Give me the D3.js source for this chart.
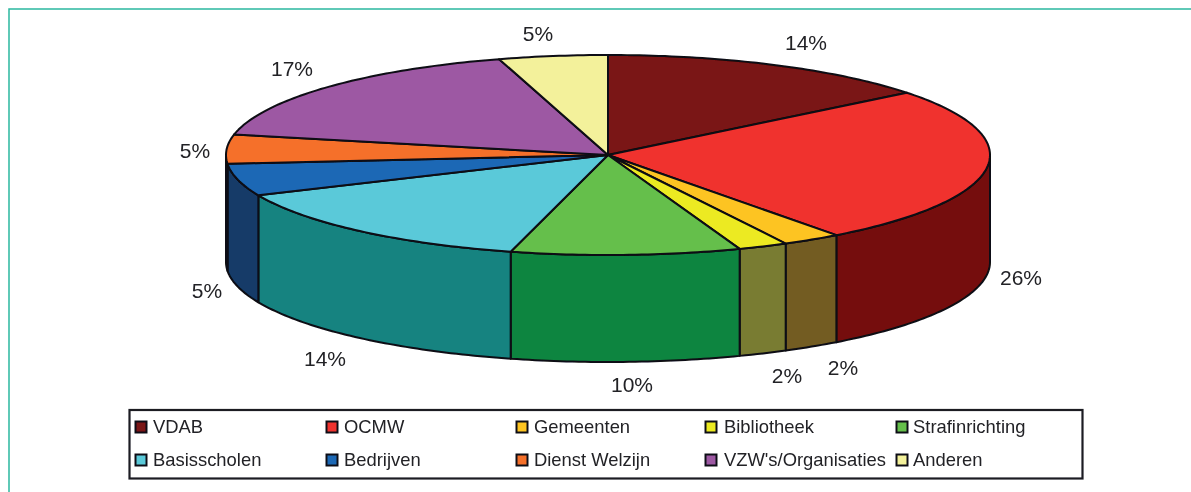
<!DOCTYPE html>
<html><head><meta charset="utf-8">
<script src="https://cdn.jsdelivr.net/npm/d3@7"></script>
<style>html,body{margin:0;padding:0;background:#fff;overflow:hidden}text{font-family:"Liberation Sans",Arial,sans-serif;fill:#222226}</style>
</head><body><svg id="c" width="1191" height="492"></svg>
<script>
const categories=["VDAB","OCMW","Gemeenten","Bibliotheek","Strafinrichting","Basisscholen","Bedrijven","Dienst Welzijn","VZW's/Organisaties","Anderen"];
const values=[14.3,25.5,2.5,2.1,9.7,14.3,5.2,4.7,17.1,4.6];
const percentLabels=["14%","26%","2%","2%","10%","14%","5%","5%","17%","5%"];
const topColors=["#7a1212","#f0302e","#fdc423","#ecea20","#65bf4b","#5ac9d9","#1c68b5","#f5702a","#9d58a3","#f3f19b"];
const sideColors=["#75100f","#75100f","#735c20","#797c33","#0f8540","#128380","#123b67","#a04a1c","#653a6a","#a09e60"];

const svg=d3.select("#c");
const W=1191,H=492;
const cx=608,cy=155,rx=382,ry=100,depth=107;
// label anchor positions of the original layout (centre of each text)
const labelPos=[[806,42],[1021,277],[843,367],[787,375],[632,384],[325,358],[207,290],[195,150],[292,68],[538,33]];

svg.append("defs").append("filter").attr("id","soft").attr("x","-2%").attr("y","-2%").attr("width","104%").attr("height","104%")
  .append("feGaussianBlur").attr("stdDeviation",0.45);

// page frame
svg.append("path").attr("d",`M9,492V9H${W}`).attr("fill","none").attr("stroke","#2bb8a0").attr("stroke-width",1.5);

const g=svg.append("g").attr("filter","url(#soft)");
const pie=d3.pie().sort(null).value(d=>d)(values);
const px=d3.scaleLinear().domain([-1,1]).range([cx-rx,cx+rx]);
const py=d3.scaleLinear().domain([-1,1]).range([cy-ry,cy+ry]);
const pt=(a,dz=0)=>[px(Math.sin(a)),py(-Math.cos(a))+dz];
const arcPts=(a0,a1,dz=0)=>{const n=Math.max(2,Math.ceil((a1-a0)*60));return d3.range(n+1).map(i=>pt(a0+(a1-a0)*i/n,dz));};
const line=d3.line();
const st={stroke:"#0c0c12",w:2};

// walls: only the front half of the ellipse is visible
const hp=Math.PI/2;
pie.forEach((s,i)=>{
  const a0=Math.max(s.startAngle,hp),a1=Math.min(s.endAngle,3*hp);
  if(a1<=a0)return;
  const pts=arcPts(a0,a1).concat(arcPts(a0,a1,depth).reverse());
  g.append("path").attr("d",line(pts)+"Z").attr("fill",sideColors[i]).attr("stroke",st.stroke).attr("stroke-width",st.w).attr("stroke-linejoin","round");
});
// top slices
pie.forEach((s,i)=>{
  const pts=[[cx,cy]].concat(arcPts(s.startAngle,s.endAngle));
  g.append("path").attr("d",line(pts)+"Z").attr("fill",topColors[i]).attr("stroke",st.stroke).attr("stroke-width",st.w).attr("stroke-linejoin","round");
});
// percentage labels
percentLabels.forEach((t,i)=>{
  g.append("text").attr("x",labelPos[i][0]).attr("y",labelPos[i][1]).attr("text-anchor","middle").attr("dominant-baseline","central").attr("font-size",21).text(t);
});
// legend
const lg=g.append("g");
lg.append("rect").attr("x",129.5).attr("y",410).attr("width",953).attr("height",68.5).attr("fill","#fff").attr("stroke","#1c1c24").attr("stroke-width",2.2);
const swatchX=[135.5,326.5,516.5,705.5,896.5];
const textX=[153,344,534,724,913];
const rowY=[427,460];
categories.forEach((c,i)=>{
  const y=rowY[Math.floor(i/5)];
  lg.append("rect").attr("x",swatchX[i%5]).attr("y",y-5.5).attr("width",11).attr("height",11).attr("fill",topColors[i]).attr("stroke","#111118").attr("stroke-width",2);
  lg.append("text").attr("x",textX[i%5]).attr("y",y-1).attr("dominant-baseline","central").attr("font-size",18.4).text(c);
});
</script></body></html>
